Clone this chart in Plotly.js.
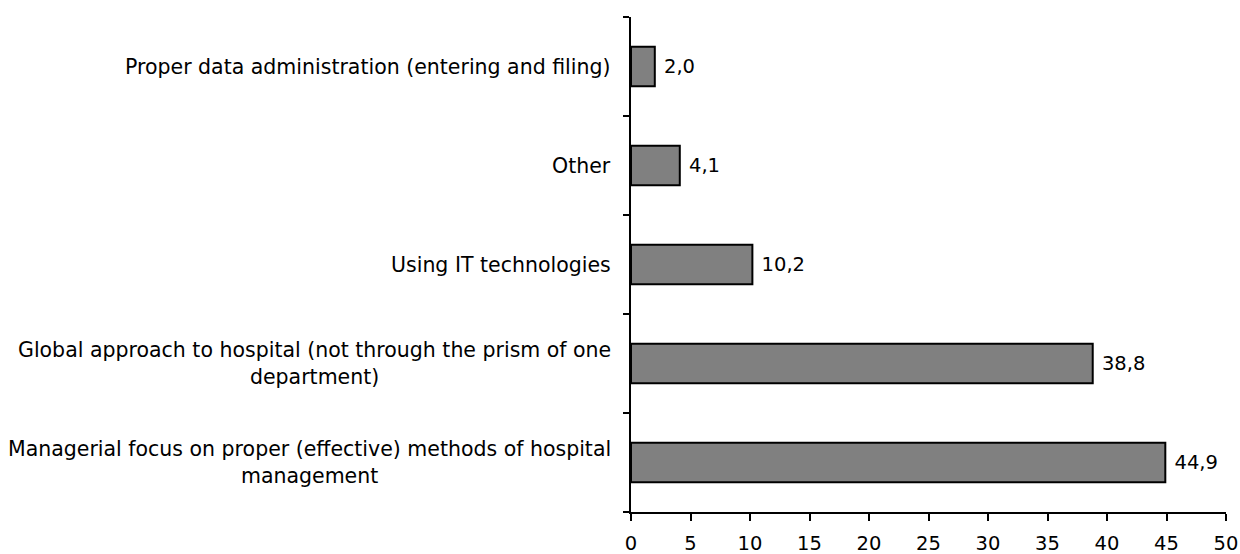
<!DOCTYPE html>
<html>
<head>
<meta charset="utf-8">
<script src="https://cdn.plot.ly/plotly-3.0.1.min.js"></script>
<style>html,body{margin:0;padding:0;background:#fff;}#chart{width:1240px;height:554px;}</style>
</head>
<body>
<div id="chart"></div>
<script>
// Categories bottom to top
const categories = [
  "Managerial focus on proper (effective) methods of hospital<br>management",
  "Global approach to hospital (not through the prism of one<br>department)",
  "Using IT technologies",
  "Other",
  "Proper data administration (entering and filing)"
];
const values = [44.9, 38.8, 10.2, 4.1, 2.0];
const valueLabels = values.map(v => v.toFixed(1).replace('.', ','));
const xTicks = [0, 5, 10, 15, 20, 25, 30, 35, 40, 45, 50];

const FONT = "'DejaVu Sans', sans-serif";

const trace = {
  type: 'bar',
  orientation: 'h',
  y: categories,
  x: values,
  text: valueLabels,
  texttemplate: ' %{text}',
  textposition: 'outside',
  cliponaxis: false,
  textfont: {family: FONT, size: 19.5, color: '#000'},
  marker: {color: '#808080', line: {color: '#000', width: 2}},
  hoverinfo: 'none'
};

const annotations = categories.map(c => ({
  xref: 'paper', yref: 'y', x: -0.03, y: c,
  text: c, showarrow: false, xanchor: 'right', yanchor: 'middle',
  align: 'center', font: {family: FONT, size: 20.5, color: '#000'}
}));

const layout = {
  width: 1240, height: 554,
  margin: {l: 631, r: 14, t: 17, b: 42},
  paper_bgcolor: '#fff', plot_bgcolor: '#fff',
  showlegend: false,
  bargap: 0.6,
  font: {family: FONT, size: 19, color: '#000'},
  xaxis: {
    range: [0, 50], tickvals: xTicks, ticktext: xTicks.map(String),
    showgrid: false, zeroline: false, showline: true, linecolor: '#000', linewidth: 2,
    ticks: 'outside', ticklen: 7, tickwidth: 2, tickcolor: '#000',
    ticklabelstandoff: 6,
    tickfont: {family: FONT, size: 19.5, color: '#000'}, fixedrange: true
  },
  yaxis: {
    type: 'category', showticklabels: false, tickson: 'boundaries',
    showgrid: false, zeroline: false, showline: true, linecolor: '#000', linewidth: 2,
    ticks: 'outside', ticklen: 6, tickwidth: 2, tickcolor: '#000', fixedrange: true
  },
  annotations: annotations
};

Plotly.newPlot('chart', [trace], layout, {displayModeBar: false, staticPlot: true});
</script>
</body>
</html>
